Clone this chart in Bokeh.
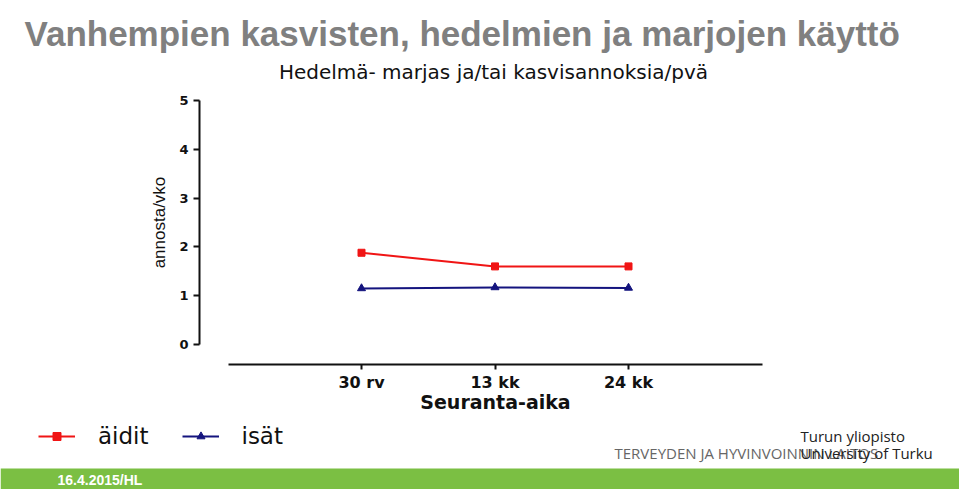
from bokeh.plotting import figure
from bokeh.models import Range1d, FixedTicker, Label, Legend, LegendItem, BoxAnnotation
from bokeh.embed import file_html
from bokeh.resources import INLINE

# ---- data ----
categories = ["30 rv", "13 kk", "24 kk"]
aidit = [1.88, 1.60, 1.60]
isat = [1.15, 1.17, 1.16]
y_ticks = [0, 1, 2, 3, 4, 5]
series_names = ["äidit", "isät"]
slide_title = "Vanhempien kasvisten, hedelmien ja marjojen käyttö"
chart_title = "Hedelmä- marjas ja/tai kasvisannoksia/pvä"
y_label = "annosta/vko"
x_label = "Seuranta-aika"
footer = "16.4.2015/HL"

xs = list(range(len(categories)))

RED = "#f01515"
BLUE = "#14147e"
W, H = 959, 489

# frame = whole canvas; category i sits at 361 + 133.5*i px, value v at 344 - 48.8*v px
p = figure(width=W, height=H, title=None, toolbar_location=None,
           output_backend="svg",
           x_range=Range1d((0 - 361) / 133.5, (W - 361) / 133.5),
           y_range=Range1d((344 - H) / 48.8, 344 / 48.8),
           min_border=0)
p.outline_line_color = None
p.xgrid.visible = False
p.ygrid.visible = False
p.background_fill_color = "white"
p.border_fill_color = "white"

# axes, drawn inside the frame at fixed positions
p.xaxis.fixed_location = (344 - 364) / 48.8
p.yaxis.fixed_location = (199 - 361) / 133.5
p.xaxis.ticker = FixedTicker(ticks=xs)
p.xaxis.major_label_overrides = {i: c for i, c in zip(xs, categories)}
p.xaxis.bounds = (-1.0, 3.0)
p.yaxis.ticker = FixedTicker(ticks=y_ticks)
p.yaxis.bounds = (0, 5)
for ax in (p.xaxis[0], p.yaxis[0]):
    ax.axis_line_width = 2
    ax.axis_line_color = "#111111"
    ax.major_tick_line_width = 2
    ax.major_tick_line_color = "#111111"
    ax.major_tick_in = 0
    ax.minor_tick_line_color = None
    ax.major_label_text_font = "DejaVu Sans"
    ax.major_label_text_font_style = "bold"
    ax.major_label_text_color = "#111111"
p.xaxis.major_tick_out = 5
p.yaxis.major_tick_out = 6
p.xaxis.major_label_text_font_size = "16px"
p.yaxis.major_label_text_font_size = "13px"
p.xaxis.major_label_standoff = 3
p.yaxis.major_label_standoff = 5

p.xaxis.axis_label = x_label
p.xaxis.axis_label_text_font = "DejaVu Sans"
p.xaxis.axis_label_text_font_style = "bold"
p.xaxis.axis_label_text_font_size = "19px"
p.xaxis.axis_label_text_color = "#111111"
p.xaxis.axis_label_standoff = -4

p.yaxis.axis_label = y_label
p.yaxis.axis_label_text_font = "Liberation Sans"
p.yaxis.axis_label_text_font_style = "normal"
p.yaxis.axis_label_text_font_size = "17px"
p.yaxis.axis_label_text_color = "#111111"
p.yaxis.axis_label_standoff = 7

# series
r1l = p.line(xs, aidit, line_color=RED, line_width=2)
r1m = p.scatter(xs, aidit, marker="square", size=7, fill_color=RED, line_color=RED)
r2l = p.line(xs, isat, line_color=BLUE, line_width=2)
r2m = p.scatter(xs, isat, marker="triangle", size=8, fill_color=BLUE, line_color=BLUE)

legend = Legend(items=[LegendItem(label=series_names[0], renderers=[r1l, r1m]),
                       LegendItem(label=series_names[1], renderers=[r2l, r2m])],
                location=(38, H - 449), orientation="horizontal",
                glyph_width=37, glyph_height=20, label_standoff=23, spacing=33,
                padding=0, margin=0, border_line_color=None,
                background_fill_alpha=0,
                label_text_font="DejaVu Sans", label_text_font_size="23px",
                label_text_color="#111111")
p.add_layout(legend, "center")

# footer band
p.add_layout(BoxAnnotation(top=21, top_units="screen", fill_color="#7bbf43",
                           fill_alpha=1, line_color=None, level="underlay"))

# texts (screen units: x from left, y up from bottom)
def lab(text, cx, cy, **kw):
    p.add_layout(Label(x=cx, y=H - cy, x_units="screen", y_units="screen",
                       text=text, **kw))

lab(slide_title, 24, 33, text_font="Liberation Sans", text_font_style="bold",
    text_font_size="35px", text_color="#808080", text_baseline="alphabetic")
lab(chart_title, 493, 71, text_font="DejaVu Sans", text_font_size="20px",
    text_color="#111111", text_align="center", text_baseline="middle")

# logo texts
lab("TERVEYDEN JA HYVINVOINNIN LAITOS", 614, 452, text_font="Open Sans",
    text_font_size="15px", text_color="#666666", text_baseline="middle")
lab("Turun yliopisto", 800, 435, text_font="Open Sans", text_font_size="15px",
    text_color="#222222", text_baseline="middle")
lab("University of Turku", 800, 452, text_font="Open Sans", text_font_size="15px",
    text_color="#222222", text_baseline="middle")

lab(footer, 57, 479, text_font="Liberation Sans", text_font_style="bold",
    text_font_size="14px", text_color="white", text_baseline="middle")

open("out.html", "w").write(file_html(p, INLINE))
